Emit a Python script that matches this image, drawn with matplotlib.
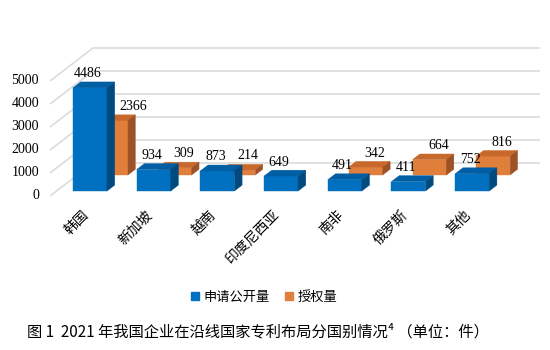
import matplotlib.pyplot as plt
from matplotlib.patches import Polygon
from matplotlib.lines import Line2D

countries = ['韩国', '新加坡', '越南', '印度尼西亚', '南非', '俄罗斯', '其他']
published = [4486, 934, 873, 649, 491, 411, 752]
granted = [2366, 309, 214, None, 342, 664, 816]
yticks = [0, 1000, 2000, 3000, 4000, 5000]
series_names = ['申请公开量', '授权量']

# colours: front, top, side
blue = ('#0070C0', '#005EA4', '#004A80')
orange = ('#E07E3C', '#C8692B', '#9C5226')

cjk = ['Noto Sans CJK SC', 'DejaVu Sans']
serif = 'Liberation Serif'

# pixel scale of the layout
px_cat = 63.7          # px per category
px_val = 115 / 5000    # px per unit of value
DX = 43 / px_cat       # depth offset (category units) for the full floor
DY = 33 / px_val       # depth offset (value units) for the full floor
W = 34 / px_cat        # bar front width
digit_w = 6.75 / px_cat

fig = plt.figure(figsize=(5.5, 3.5), dpi=100)
ax = fig.add_axes([0, 0, 1, 1])
ax.set_xlim(-83.5 / px_cat, (550 - 83.5) / px_cat)
ax.set_ylim(-154 / px_val, (350 - 154) / px_val)
ax.axis('off')

wall_x = -(83.5 - 50) / px_cat
wall_end = (540 - 83.5) / px_cat

# side wall + back wall gridlines
for t in yticks:
    ax.plot([wall_x, wall_x + DX, wall_end], [t, t + DY, t + DY],
            color='#D9D9D9', lw=1.1, zorder=1, solid_capstyle='butt')
    ax.text(wall_x - 11 / px_cat, t, str(t), ha='right', va='center',
            fontsize=10, family=serif, color='black')


def bar3d(x0, v, d0, d1, cols, z):
    w = W
    fx0, fx1 = x0 + DX * d0, x0 + w + DX * d0
    bx0, bx1 = x0 + DX * d1, x0 + w + DX * d1
    y0, y1 = DY * d0, DY * d1
    front = [(fx0, y0), (fx1, y0), (fx1, y0 + v), (fx0, y0 + v)]
    top = [(fx0, y0 + v), (fx1, y0 + v), (bx1, y1 + v), (bx0, y1 + v)]
    side = [(fx1, y0), (bx1, y1), (bx1, y1 + v), (fx1, y0 + v)]
    for pts, c in zip((front, top, side), cols):
        ax.add_patch(Polygon(pts, closed=True, facecolor=c, edgecolor=c,
                             lw=0.3, zorder=z))
    return (fx0 + fx1) / 2, y0 + v, bx1


# front series geometry, needed to keep rear labels clear of it
front_bars = []
for i, v in enumerate(published):
    front_bars.append(bar3d(i - W / 2, v, 0.15, 0.33, blue, 3))

for i, v in enumerate(granted):
    if v is None:
        continue
    cx, top, _ = bar3d(i - W / 2, v, 0.64, 0.81, orange, 2)
    lx = cx + 9 / px_cat
    half = len(str(v)) * digit_w / 2
    _, btop, bright = front_bars[i]
    if top + 14 / px_val < btop:
        lx = max(lx, bright + 5 / px_cat + half)
    ax.text(lx, top + 14 / px_val, str(v), ha='center',
            va='center', fontsize=10, family=serif, color='black', zorder=5)

for i, v in enumerate(published):
    cx, top, _ = front_bars[i]
    ax.text(cx - 2 / px_cat, top + 14 / px_val, str(v), ha='center',
            va='center', fontsize=10, family=serif, color='black', zorder=5)

# category labels
for i, name in enumerate(countries):
    ax.text(i + 3 / px_cat, -17 / px_val, name, rotation=45, ha='right',
            va='center', rotation_mode='anchor', fontsize=10, family=cjk,
            color='black')

handles = [Line2D([], [], marker='s', ls='none', color=blue[0], markersize=6),
           Line2D([], [], marker='s', ls='none', color=orange[0], markersize=6)]
fig.legend(handles, series_names, loc='center', ncol=2, frameon=False,
           bbox_to_anchor=(263 / 550, 1 - 297 / 350), prop={'family': cjk, 'size': 9.5},
           handletextpad=0.1, columnspacing=1.0, handlelength=1.0)

fig.text(258 / 550, 1 - 332 / 350,
         '图 1  2021 年我国企业在沿线国家专利布局分国别情况⁴ （单位：件）',
         ha='center', va='center', fontsize=11, family=cjk, color='black')

fig.savefig('out.png', dpi=100)
